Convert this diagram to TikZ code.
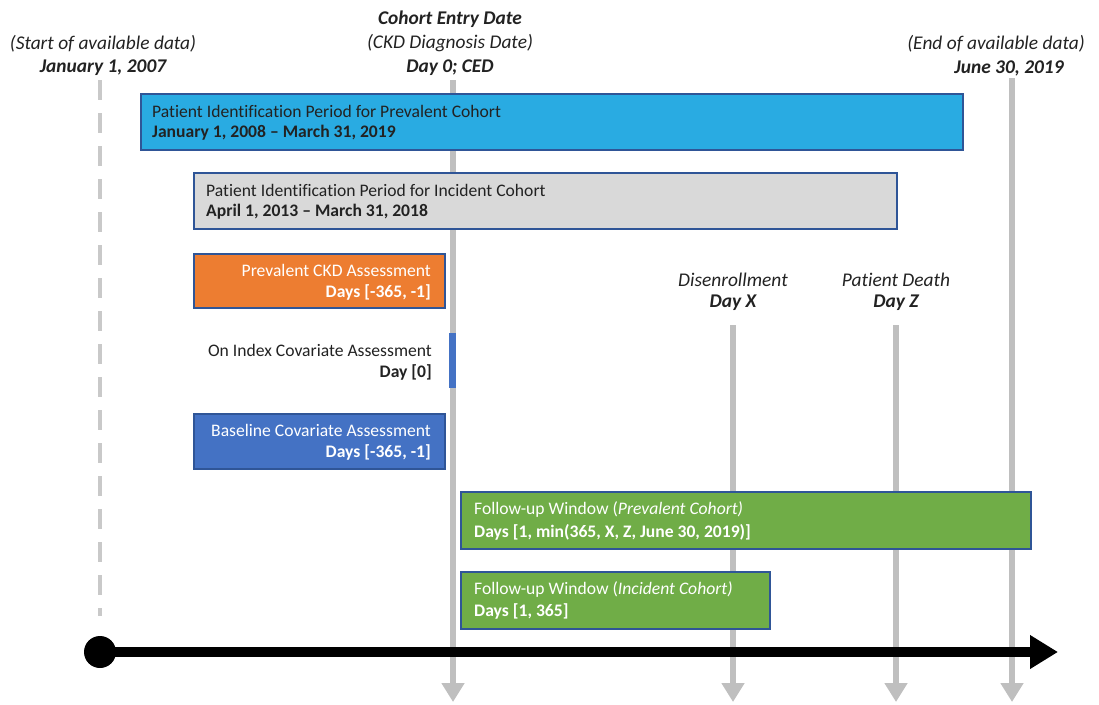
\documentclass[tikz,border=0pt]{standalone}
\usepackage{fontspec}
\setmainfont[Ligatures=NoCommon]{Carlito}
\usetikzlibrary{arrows.meta}
\definecolor{skyb}{HTML}{29ABE2}
\definecolor{edgeb}{HTML}{2F5597}
\definecolor{lgray}{HTML}{D9D9D9}
\definecolor{orng}{HTML}{ED7D31}
\definecolor{mblue}{HTML}{4472C4}
\definecolor{grn}{HTML}{70AD47}
\definecolor{vline}{HTML}{BFBFBF}
\definecolor{txt}{HTML}{222222}
\tikzset{
  period/.style={draw=edgeb, line width=1.6pt, inner sep=0pt},
  lbl/.style={inner sep=0pt, font=\fontsize{17.6}{20}\selectfont, text=txt},
  toplbl/.style={inner sep=0pt, font=\fontsize{19.4}{22}\selectfont\itshape, text=txt},
  topbold/.style={inner sep=0pt, font=\fontsize{19.4}{22}\selectfont\bfseries\itshape, text=txt},
  vtick/.style={draw=vline, line width=6pt, -{Triangle[width=22pt,length=19pt]}},
}
\begin{document}
\begin{tikzpicture}[x=1pt,y=-1pt]
\useasboundingbox (0,0) rectangle (1099,704);
% coordinates for guide lines
\coordinate (s0) at (100,80);
\coordinate (s1) at (100,616);
\coordinate (c0) at (453,80);
\coordinate (c1) at (453,702);
\coordinate (x0) at (733,325);
\coordinate (x1) at (733,702);
\coordinate (z0) at (896,325);
\coordinate (z1) at (896,702);
\coordinate (e0) at (1012,78);
\coordinate (e1) at (1012,702);
% guide lines
\draw[draw=vline!85, line width=4.5pt, dash pattern=on 20pt off 13pt] (s0) -- (s1);
\draw[vtick] (c0) -- (c1);
\draw[vtick] (x0) -- (x1);
\draw[vtick] (z0) -- (z1);
\draw[vtick] (e0) -- (e1);
% boxes
\node[period, fill=skyb, minimum width=822pt, minimum height=56pt, anchor=north west] (prev) at (140,93) {};
\node[period, fill=lgray, minimum width=703pt, minimum height=56pt, anchor=north west] (inc) at (193,172) {};
\node[period, fill=orng, minimum width=251pt, minimum height=54pt, anchor=north west] (ckd) at (193,253) {};
\node[fill=mblue, minimum width=7pt, minimum height=55pt, inner sep=0pt, anchor=north west] (idx) at (449,333) {};
\node[period, fill=mblue, minimum width=251pt, minimum height=55pt, anchor=north west] (base) at (193,413) {};
\node[period, fill=grn, minimum width=570pt, minimum height=57pt, anchor=north west] (fup) at (460,491) {};
\node[period, fill=grn, minimum width=309pt, minimum height=57pt, anchor=north west] (fui) at (460,571) {};
% box texts
\node[lbl, anchor=west] (t1a) at (152,111) {Patient Identification Period for Prevalent Cohort};
\node[lbl, anchor=west] (t1b) at (152,133) {\bfseries January 1, 2008 -- March 31, 2019};
\node[lbl, anchor=west] (t2a) at (206,190) {Patient Identification Period for Incident Cohort};
\node[lbl, anchor=west] (t2b) at (206,212) {\bfseries April 1, 2013 -- March 31, 2018};
\node[lbl, anchor=east, text=white] (t3a) at (431,270) {Prevalent CKD Assessment};
\node[lbl, anchor=east, text=white] (t3b) at (431,292) {\bfseries Days [-365, -1]};
\node[lbl, anchor=east] (t4a) at (432,350) {On Index Covariate Assessment};
\node[lbl, anchor=east] (t4b) at (432,372) {\bfseries Day [0]};
\node[lbl, anchor=east, text=white] (t5a) at (431,430) {Baseline Covariate Assessment};
\node[lbl, anchor=east, text=white] (t5b) at (431,452) {\bfseries Days [-365, -1]};
\node[lbl, anchor=west, text=white] (t6a) at (474,509) {Follow-up Window (\textit{Prevalent Cohort)}};
\node[lbl, anchor=west, text=white] (t6b) at (474,532) {\bfseries Days [1, min(365, X, Z, June 30, 2019)]};
\node[lbl, anchor=west, text=white] (t7a) at (474,589) {Follow-up Window (\textit{Incident Cohort)}};
\node[lbl, anchor=west, text=white] (t7b) at (474,611) {\bfseries Days [1, 365]};
% top labels
\node[toplbl] (sa) at (103,44) {(Start of available data)};
\node[topbold] (sb) at (103,68) {January 1, 2007};
\node[topbold] (ca) at (450,19) {Cohort Entry Date};
\node[toplbl] (cb) at (450,43) {(CKD Diagnosis Date)};
\node[topbold] (cc) at (450,68) {Day 0; CED};
\node[toplbl] (ea) at (996,44) {(End of available data)};
\node[topbold] (eb) at (1009,68) {June 30, 2019};
\node[toplbl] (xa) at (733,280) {Disenrollment};
\node[topbold] (xb) at (733,303) {Day X};
\node[toplbl] (za) at (896,280) {Patient Death};
\node[topbold] (zb) at (896,303) {Day Z};
% axis
\coordinate (a0) at (100,652);
\coordinate (a1) at (1058,652);
\draw[line width=10pt, -{Triangle[width=32pt,length=28pt]}] (a0) -- (a1);
\fill (a0) circle (16pt);
\end{tikzpicture}
\end{document}
